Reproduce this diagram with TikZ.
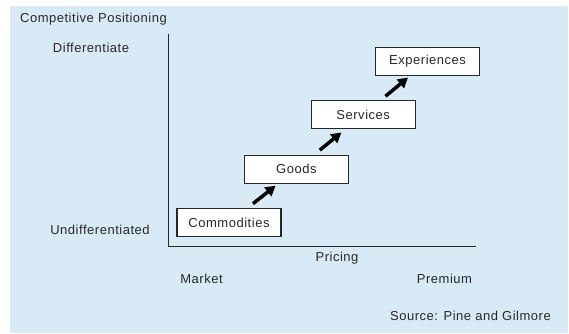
\documentclass[tikz,border=0pt]{standalone}
\usepackage{fontspec}
\setmainfont[LetterSpace=4]{Liberation Sans}
\usetikzlibrary{arrows.meta}
\definecolor{panelblue}{RGB}{216,234,246}
\definecolor{ink}{RGB}{40,40,40}
\begin{document}
\begin{tikzpicture}[x=1pt,y=-1pt,
  every node/.style={font=\fontsize{13}{15}\selectfont, text=ink, inner sep=0pt},
  label/.style={anchor=center},
  stagebox/.style={draw=ink, line width=1.3pt, fill=white, minimum width=104pt, minimum height=28pt},
  axis/.style={draw=ink, line width=1.3pt},
  stepArrow/.style={draw=black, line width=3.5pt, -{Triangle[length=10pt,width=11pt]},
    shorten <=7pt, shorten >=3pt}]
  \useasboundingbox (0,0) rectangle (569,333);
  % background panel
  \fill[panelblue] (10,6) rectangle (568,333);

  % axes
  \coordinate (origin) at (168.5,246.5);
  \coordinate (ytop) at (168.5,34);
  \coordinate (xend) at (475.5,246.5);
  \draw[axis] (ytop) -- (origin) -- (xend);

  % axis texts
  \node[label] (title) at (93.5,19) {Competitive Positioning};
  \node[label] (diff) at (91,48) {Differentiate};
  \node[label] (undiff) at (100,230) {Undifferentiated};
  \node[label] (pricing) at (337,258.5) {Pricing};
  \node[label] (market) at (201.5,279) {Market};
  \node[label] (premium) at (444.5,279) {Premium};
  \node[label] (source) at (470.5,316) {Source: Pine and Gilmore};

  % stages
  \node[stagebox] (comm) at (229,222.7) {Commodities};
  \node[stagebox] (goods) at (296.4,169.2) {Goods};
  \node[stagebox] (serv) at (363.2,114.7) {Services};
  \node[stagebox] (exper) at (427.6,61.3) {Experiences};

  % progression arrows
  \draw[stepArrow] (comm) -- (goods);
  \draw[stepArrow, shorten >=5pt] (goods) -- (serv);
  \draw[stepArrow, shorten <=6pt, shorten >=2.5pt] (serv) -- (exper);
\end{tikzpicture}
\end{document}
